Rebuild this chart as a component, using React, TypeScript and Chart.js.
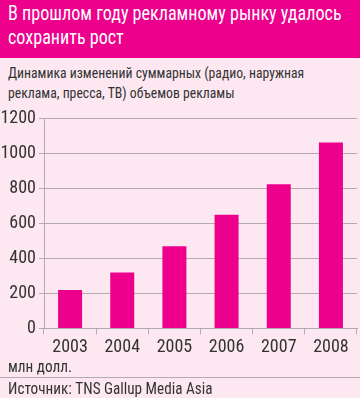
import React, { useEffect, useRef } from "react";
import { Chart, registerables } from "chart.js";

Chart.register(...registerables);

const title = ["В прошлом году рекламному рынку удалось", "сохранить рост"];
const subtitle = ["Динамика изменений суммарных (радио, наружная", "реклама, пресса, ТВ) объемов рекламы"];
const years = ["2003", "2004", "2005", "2006", "2007", "2008"];
const values = [220, 320, 470, 650, 825, 1065];
const yTicks = [0, 200, 400, 600, 800, 1000, 1200];
const unit = "млн долл.";
const source = "Источник: TNS Gallup Media Asia";

const FONT = "'Roboto Condensed', 'DejaVu Sans Condensed', sans-serif";
const MAGENTA = "#ec008c";
const BG = "#fde8f1";
const GRID = "#b3abaf";
const TEXT = "#333";

const squeeze = (sx: number): React.CSSProperties => ({
  transform: `scaleX(${sx})`,
  transformOrigin: "0 0",
  whiteSpace: "nowrap",
});

export default function App() {
  const ref = useRef<HTMLCanvasElement>(null);
  useEffect(() => {
    if (!ref.current) return;
    const chart = new Chart(ref.current, {
      type: "bar",
      data: {
        labels: years,
        datasets: [
          {
            data: values,
            backgroundColor: MAGENTA,
            barPercentage: 0.92,
            categoryPercentage: 0.5,
          },
        ],
      },
      options: {
        animation: false,
        responsive: false,
        maintainAspectRatio: false,
        layout: { padding: { top: 0, right: 3, left: 0, bottom: 0 } },
        plugins: { legend: { display: false }, tooltip: { enabled: false } },
        scales: {
          x: {
            offset: true,
            grid: {
              offset: true,
              color: (c: any) => (c.index === years.length ? GRID : "rgba(0,0,0,0)"),
              tickColor: GRID,
              tickLength: 6,
              lineWidth: 1,
            },
            border: { color: GRID, width: 1 },
            ticks: { color: TEXT, font: { family: FONT, size: 18 }, padding: 2 },
          },
          y: {
            min: 0,
            max: 1200,
            afterBuildTicks: (s: any) => {
              s.ticks = yTicks.map((v) => ({ value: v }));
            },
            afterFit: (s: any) => {
              s.width = 44;
            },
            grid: { color: GRID, tickColor: GRID, tickLength: 5, lineWidth: 1 },
            border: { color: GRID, width: 1 },
            ticks: {
              color: TEXT,
              font: { family: FONT, size: 18 },
              padding: 3,
              callback: (v: any) => String(v),
            },
          },
        },
      },
    });
    return () => chart.destroy();
  }, []);

  return (
    <div
      style={{
        position: "absolute",
        left: 0,
        top: 0,
        width: 360,
        height: 398,
        background: BG,
        fontFamily: FONT,
        overflow: "hidden",
      }}
    >
      <div
        style={{
          position: "absolute",
          left: 0,
          top: 0,
          width: 360,
          height: 58,
          background: MAGENTA,
        }}
      />
      <div
        style={{
          position: "absolute",
          left: 8,
          top: 1,
          color: "#fff",
          fontSize: 20,
          lineHeight: "24px",
          ...squeeze(0.905),
        }}
      >
        {title.map((t, i) => (
          <div key={i}>{t}</div>
        ))}
      </div>
      <div
        style={{
          position: "absolute",
          left: 8,
          top: 63,
          color: TEXT,
          fontSize: 15.5,
          lineHeight: "20px",
          ...squeeze(0.885),
        }}
      >
        {subtitle.map((t, i) => (
          <div key={i}>{t}</div>
        ))}
      </div>
      <canvas ref={ref} width={360} height={255} style={{ position: "absolute", left: 0, top: 105, width: 360, height: 255 }} />
      <div style={{ position: "absolute", left: 8, top: 357, color: TEXT, fontSize: 16, lineHeight: "20px", ...squeeze(0.95) }}>
        {unit}
      </div>
      <div style={{ position: "absolute", left: 0, top: 377, width: 360, height: 1, background: GRID }} />
      <div style={{ position: "absolute", left: 8, top: 379, color: TEXT, fontSize: 16, lineHeight: "20px", ...squeeze(0.95) }}>
        {source}
      </div>
    </div>
  );
}
